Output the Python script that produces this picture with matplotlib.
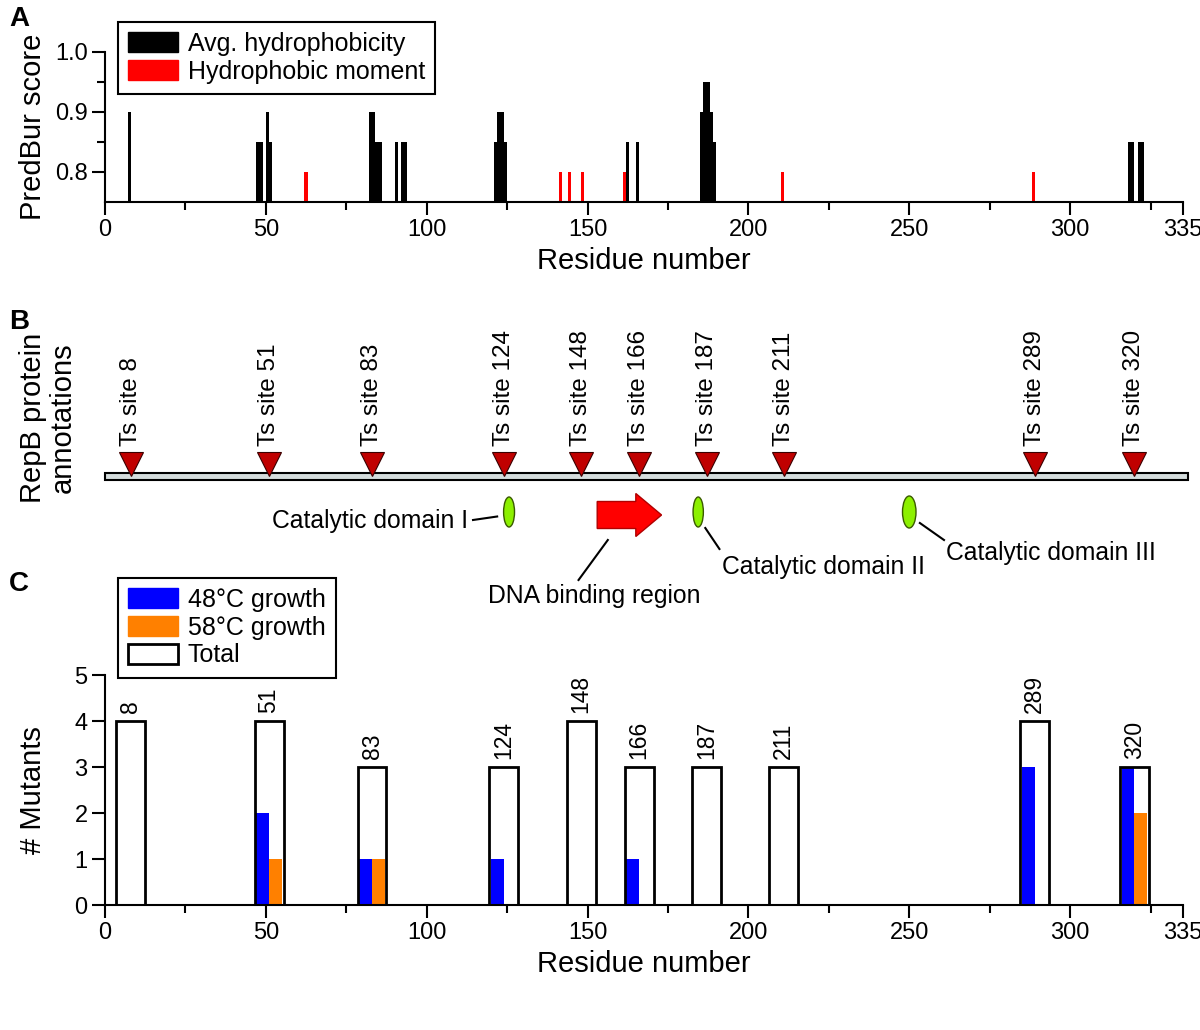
import matplotlib
matplotlib.use("Agg")
import matplotlib.pyplot as plt
from matplotlib.patches import Patch, Ellipse, Rectangle
from matplotlib.ticker import FixedLocator, MultipleLocator

plt.rcParams['font.family'] = ['Liberation Sans', 'DejaVu Sans']

# ---- panel A: PredBur scores per residue
hyd_res = [8, 48, 49, 51, 52, 83, 84, 85, 86, 91, 93, 94,
           122, 123, 124, 125, 163, 166, 186, 187, 188, 189, 190,
           319, 320, 322, 323]
hyd_score = [0.90, 0.85, 0.85, 0.90, 0.85, 0.90, 0.90, 0.85, 0.85, 0.85, 0.85, 0.85,
             0.85, 0.90, 0.90, 0.85, 0.85, 0.85, 0.90, 0.95, 0.95, 0.90, 0.85,
             0.85, 0.85, 0.85, 0.85]
mom_res = [63, 142, 145, 149, 162, 211, 289]
mom_score = [0.80, 0.80, 0.80, 0.80, 0.80, 0.80, 0.80]

# ---- panel B: RepB annotations
ts_sites = [8, 51, 83, 124, 148, 166, 187, 211, 289, 320]
cat_names = ["Catalytic domain I", "Catalytic domain II", "Catalytic domain III"]
cat_pos = [125.6, 184.4, 250.0]
dna_start = 153
dna_end = 173

# ---- panel C: mutants per Ts site
total = [4, 4, 3, 3, 4, 3, 3, 3, 4, 3]
growth48 = [0, 2, 1, 1, 0, 1, 0, 0, 3, 3]
growth58 = [0, 1, 1, 0, 0, 0, 0, 0, 0, 2]

W, H = 1200, 1030
fig = plt.figure(figsize=(W / 100, H / 100), dpi=100)


def fx(px):
    return px / W


def fy(py):
    return 1 - py / H


left = fx(105)
width = fx(1182.7) - fx(105)


def residue_axis(ax):
    ax.set_xlim(0, 335)
    ax.xaxis.set_major_locator(FixedLocator([0, 50, 100, 150, 200, 250, 300, 335]))
    ax.xaxis.set_minor_locator(FixedLocator([25, 75, 125, 175, 225, 275, 325]))
    for s in ["top", "right"]:
        ax.spines[s].set_visible(False)
    for s in ["left", "bottom"]:
        ax.spines[s].set_linewidth(1.5)
    ax.tick_params(which="major", direction="out", length=9.5, width=1.5,
                   labelsize=17, pad=3)
    ax.tick_params(which="minor", direction="out", length=5.5, width=1.5)
    ax.set_xlabel("Residue number", fontsize=21, labelpad=4)


legend_kw = dict(loc="upper left", fontsize=18, fancybox=False, framealpha=1,
                 edgecolor="black", borderpad=0.4, handletextpad=0.4,
                 labelspacing=0.15, handlelength=2.0, handleheight=0.85,
                 borderaxespad=0, bbox_transform=fig.transFigure)

# ---------------- A
axA = fig.add_axes([left, fy(202), width, fy(51.7) - fy(202)])
axA.bar(hyd_res, hyd_score, width=-1, align="edge", color="black", linewidth=0)
axA.bar(mom_res, mom_score, width=-1, align="edge", color="#ff0000", linewidth=0)
axA.set_ylim(0.75, 1.0)
residue_axis(axA)
axA.yaxis.set_major_locator(FixedLocator([0.8, 0.9, 1.0]))
axA.yaxis.set_minor_locator(FixedLocator([0.85, 0.95]))
axA.set_yticklabels(["0.8", "0.9", "1.0"])
axA.set_ylabel("PredBur score", fontsize=21)
axA.yaxis.set_label_coords(-0.054, 0.5)
axA.legend(handles=[Patch(fc="black", ec="black"), Patch(fc="#ff0000", ec="#ff0000")],
           labels=["Avg. hydrophobicity", "Hydrophobic moment"],
           bbox_to_anchor=(fx(118), fy(22)), **legend_kw).get_frame().set_linewidth(1.5)

# ---------------- B  (y data in image pixels)
axB = fig.add_axes([left, fy(640), width, fy(300) - fy(640)])
axB.set_xlim(0, 335)
axB.set_ylim(640, 300)
axB.axis("off")
axB.add_patch(Rectangle((0, 473), 336.5, 7, fc="#d4dcdc", ec="black", lw=1.5,
                        clip_on=False, zorder=2))
axB.plot(ts_sites, [464] * len(ts_sites), "v", ms=17, mfc="#c00000",
         mec="#3a0000", mew=0.8, zorder=3, clip_on=False)
for s in ts_sites:
    axB.text(s, 446, "Ts site %d" % s, rotation=90, ha="center", va="bottom",
             fontsize=17.5)

ell_w = [3.4, 3.2, 4.2]
ell_h = [30, 30, 32]
for pos, w, h in zip(cat_pos, ell_w, ell_h):
    axB.add_patch(Ellipse((pos, 512), w, h, fc="#8cf000", ec="#3a5a00", lw=1,
                          zorder=3))
axB.arrow(dna_start, 515, dna_end - dna_start, 0, width=27, head_width=43,
          head_length=8, length_includes_head=True, fc="#ff0000",
          ec="#b00000", lw=1, zorder=3)

# leader lines + labels
axB.plot([114.4, 121.9], [520, 516.5], color="black", lw=1.5)
axB.text(112.9, 521, cat_names[0], ha="right", va="center", fontsize=17.8)
axB.plot([186.6, 191.0], [528, 549], color="black", lw=1.5)
axB.text(191.9, 567, cat_names[1], ha="left", va="center", fontsize=17.8)
axB.plot([253.3, 260.8], [523, 540], color="black", lw=1.5)
axB.text(261.5, 553, cat_names[2], ha="left", va="center", fontsize=17.8)
axB.plot([156.3, 147.2], [540, 580], color="black", lw=1.5)
axB.text(152.1, 596, "DNA binding region", ha="center", va="center", fontsize=17.8)

fig.text(fx(48), fy(418), "RepB protein\nannotations", rotation=90, ha="center",
         va="center", fontsize=21, multialignment="center", linespacing=1.05)

# ---------------- C
axC = fig.add_axes([left, fy(905), width, fy(675) - fy(905)])
axC.bar(ts_sites, growth48, width=-4, align="edge", color="#0000ff", linewidth=0,
        zorder=2)
axC.bar(ts_sites, growth58, width=4, align="edge", color="#ff8000", linewidth=0,
        zorder=2)
axC.bar(ts_sites, total, width=9, facecolor="none", edgecolor="black",
        linewidth=2, zorder=3)
for s, t in zip(ts_sites, total):
    axC.annotate(str(s), (s, t), xytext=(0, 6), textcoords="offset points",
                 rotation=90, ha="center", va="bottom", fontsize=16.5)
axC.set_ylim(0, 5)
residue_axis(axC)
axC.yaxis.set_major_locator(MultipleLocator(1))
axC.set_ylabel("# Mutants", fontsize=21)
axC.yaxis.set_label_coords(-0.054, 0.5)
axC.legend(handles=[Patch(fc="#0000ff", ec="#0000ff"), Patch(fc="#ff8000", ec="#ff8000"),
                    Patch(fc="white", ec="black", lw=2)],
           labels=["48\u00b0C growth", "58\u00b0C growth", "Total"],
           bbox_to_anchor=(fx(118), fy(578)), **legend_kw).get_frame().set_linewidth(1.5)

# panel letters
for letter, py in [("A", 19), ("B", 322), ("C", 584)]:
    fig.text(fx(9), fy(py), letter, fontsize=20, fontweight="bold",
             ha="left", va="center")

fig.savefig("out.png", dpi=100)
